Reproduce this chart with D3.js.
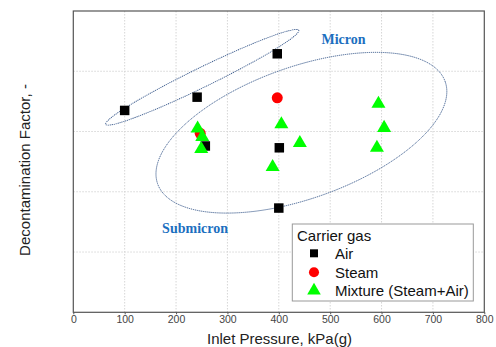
<!DOCTYPE html>
<html><head><meta charset="utf-8">
<script src="https://cdn.jsdelivr.net/npm/d3@7"></script>
<style>body{margin:0;background:#fff}svg{display:block}</style>
</head><body>
<svg id="c" width="496" height="347"></svg>
<script>
// Data (x: inlet pressure kPa(g), y: decontamination factor, relative units)
const xTicks = [0,100,200,300,400,500,600,700,800];
const yGrid = [1,2,3,4];
const airX = [100,241,397,257,401,400];
const airY = [3.35,3.57,4.29,2.76,2.73,1.73];
const steamX = [397,247];
const steamY = [3.56,2.97];
const mixX = [242,251,249,405,441,388,594,605,591];
const mixY = [3.05,2.91,2.71,3.12,2.81,2.41,3.46,3.06,2.73];
const legendLabels = ["Air","Steam","Mixture (Steam+Air)"];
// annotation ellipses: centre in data units, semi-axes in pressure units, tilt in degrees
const ellipseNames = ["Micron","Submicron"];
const ellipseCx = [251,444];
const ellipseCy = [3.90,2.98];
const ellipseA = [209,297];
const ellipseB = [19,128];
const ellipseTilt = [26,19.6];
const labelX = [526,237];
const labelY = [4.53,1.405];

const svg = d3.select("#c");
const L=73.3,R=484.3,T=11,B=312.3;
const x = d3.scaleLinear().domain([0,800]).range([L,R]);
const y = d3.scaleLinear().domain([0,5]).range([B,T]);
const kx = (R-L)/800;
const ff="Arial, 'Liberation Sans', sans-serif";

// grid
svg.append("g").selectAll("line").data(xTicks.slice(1,-1)).join("line")
  .attr("x1",d=>x(d)).attr("x2",d=>x(d)).attr("y1",T).attr("y2",B)
  .attr("stroke","#d6d6d6").attr("stroke-dasharray","1.5,1.5");
svg.append("g").selectAll("line").data(yGrid).join("line")
  .attr("y1",d=>y(d)).attr("y2",d=>y(d)).attr("x1",L).attr("x2",R)
  .attr("stroke","#d6d6d6").attr("stroke-dasharray","1.5,1.5");

// x axis
const ax = svg.append("g").attr("transform",`translate(0,${B})`)
  .call(d3.axisBottom(x).tickValues(xTicks).tickSize(2).tickPadding(1));
ax.select(".domain").remove();
ax.selectAll("line").attr("stroke","#555");
ax.selectAll("text").attr("font-family",ff).attr("font-size",10.5).attr("fill","#444");

// frame
svg.append("rect").attr("x",L).attr("y",T).attr("width",R-L).attr("height",B-T)
  .attr("fill","none").attr("stroke","#555").attr("stroke-width",1.2);

// ellipses
svg.append("g").selectAll("ellipse").data(ellipseNames).join("ellipse")
  .attr("cx",(d,i)=>x(ellipseCx[i])).attr("cy",(d,i)=>y(ellipseCy[i]))
  .attr("rx",(d,i)=>ellipseA[i]*kx).attr("ry",(d,i)=>ellipseB[i]*kx)
  .attr("transform",(d,i)=>`rotate(${-ellipseTilt[i]},${x(ellipseCx[i])},${y(ellipseCy[i])})`)
  .attr("fill","none").attr("stroke","#3a5a8c").attr("stroke-width",0.9).attr("stroke-dasharray","1.2,0.8");

svg.append("g").selectAll("text").data(ellipseNames).join("text")
  .attr("x",(d,i)=>x(labelX[i])).attr("y",(d,i)=>y(labelY[i])).attr("dy","0.35em")
  .attr("text-anchor","middle").attr("font-family","'Liberation Serif','Times New Roman',serif")
  .attr("font-weight","bold").attr("font-size",14).attr("fill","#1c6fbf").text(d=>d);

// markers
const sq = d3.symbol().type(d3.symbolSquare).size(90);
const ci = d3.symbol().type(d3.symbolCircle).size(95);
const tr = d3.symbol().type(d3.symbolTriangle).size(85);
const g = svg.append("g");
g.selectAll(".s").data(steamX).join("path").attr("class","s").attr("d",ci)
  .attr("transform",(d,i)=>`translate(${x(d)},${y(steamY[i])})`).attr("fill","#ff0000");
g.selectAll(".a").data(airX).join("path").attr("class","a").attr("d",sq)
  .attr("transform",(d,i)=>`translate(${x(d)},${y(airY[i])})`).attr("fill","#000");
g.selectAll(".m").data(mixX).join("path").attr("class","m").attr("d",tr)
  .attr("transform",(d,i)=>`translate(${x(d)},${y(mixY[i])})`).attr("fill","#00ff00");

// legend
const lg = svg.append("g");
lg.append("rect").attr("x",292.3).attr("y",224).attr("width",181).attr("height",77)
  .attr("fill","#fff").attr("stroke","#999").attr("stroke-width",1);
lg.append("text").attr("x",297).attr("y",235.7).attr("dy","0.35em").attr("font-family",ff).attr("font-size",15).attr("fill","#111").text("Carrier gas");
const syms=[d3.symbol().type(d3.symbolSquare).size(64),d3.symbol().type(d3.symbolCircle).size(80),d3.symbol().type(d3.symbolTriangle).size(80)];
const cols=["#000","#ff0000","#00ff00"];
const rowY=[253.3,272.3,290.7];
legendLabels.forEach((t,i)=>{
  lg.append("path").attr("d",syms[i]).attr("transform",`translate(314,${rowY[i]})`).attr("fill",cols[i]);
  lg.append("text").attr("x",335).attr("y",rowY[i]).attr("dy","0.35em").attr("font-family",ff).attr("font-size",15).attr("fill","#111").text(t);
});

// axis titles
svg.append("text").attr("x",279.5).attr("y",338.5).attr("dy","0.35em").attr("text-anchor","middle")
  .attr("font-family",ff).attr("font-size",15).attr("fill","#222").text("Inlet Pressure, kPa(g)");
svg.append("text").attr("transform","translate(25,170) rotate(-90)").attr("dy","0.35em").attr("text-anchor","middle")
  .attr("font-family",ff).attr("font-size",15).attr("fill","#222").text("Decontamination Factor, -");
</script>
</body></html>
